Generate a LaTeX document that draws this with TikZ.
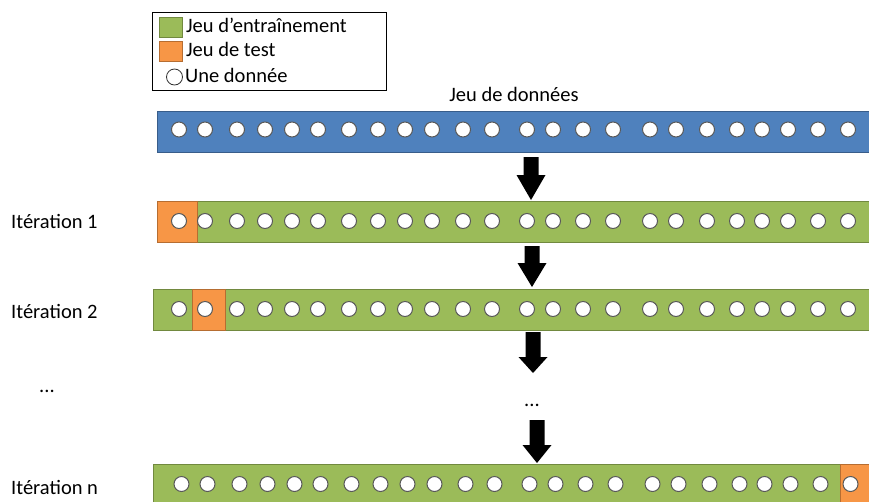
\documentclass[tikz,border=0pt]{standalone}
\usepackage{fontspec}
\setmainfont{Carlito}
\definecolor{setblue}{HTML}{4F81BD}
\definecolor{setblueline}{HTML}{385D8A}
\definecolor{trainfill}{HTML}{9BBB59}
\definecolor{trainline}{HTML}{71893F}
\definecolor{testfill}{HTML}{F79646}
\definecolor{testline}{HTML}{B66D31}
\newcommand\blockarrow[4]{%
  \fill (#1-7.5,#2) -- (#1+7.5,#2) -- (#1+7.5,#3) -- (#1+14.5,#3)
    -- (#1,#4) -- (#1-14.5,#3) -- (#1-7.5,#3) -- cycle;}
\begin{document}
\begin{tikzpicture}[x=1pt,y=-1pt,
  dot/.style={circle,draw=black!65,fill=white,line width=1pt,
    minimum size=15pt,inner sep=0pt},
  databar/.style={rectangle,line width=1pt,anchor=north west,
    minimum height=41pt,inner sep=0pt},
  trainbar/.style={databar,fill=trainfill,draw=trainline},
  testcell/.style={databar,fill=testfill,draw=testline},
  label/.style={anchor=base west,inner sep=0pt,font=\fontsize{20.5}{24}\selectfont},
  legendtext/.style={anchor=base west,inner sep=0pt,font=\fontsize{20.5}{24}\selectfont}]
\useasboundingbox (0,0) rectangle (869,501);
\clip (0,0) rectangle (869,501);

% legend
\node[draw,line width=0.8pt,anchor=north west,minimum width=234pt,
  minimum height=78pt,inner sep=0pt] (legend) at (152,12) {};
\node[draw=trainline,fill=trainfill,anchor=north west,minimum width=23pt,
  minimum height=20pt,inner sep=0pt] (ltrain) at (159,17) {};
\node[draw=testline,fill=testfill,anchor=north west,minimum width=23pt,
  minimum height=20pt,inner sep=0pt] (ltest) at (159,41) {};
\node[circle,draw=black!80,fill=white,line width=0.8pt,minimum size=16pt,
  inner sep=0pt] (ldot) at (174.5,77) {};
\node[legendtext] (ttrain) at (186,32) {Jeu d’entraînement};
\node[legendtext] (ttest) at (186,56) {Jeu de test};
\node[legendtext] (tdot) at (185,82) {Une donnée};

% full data set
\node[label,anchor=base] (tdata) at (514,101) {Jeu de données};
\node[databar,fill=setblue,draw=setblueline,minimum width=730pt] (data) at (157,111) {};

% iterations
\node[trainbar,minimum width=730pt] (it1) at (157,201) {};
\node[testcell,minimum width=40pt] (t1) at (157,201) {};
\node[trainbar,minimum width=730pt] (it2) at (153,289) {};
\node[testcell,minimum width=33pt] (t2) at (192,289) {};
\node[trainbar,minimum width=730pt] (itn) at (153,464) {};
\node[testcell,minimum width=40pt] (tn) at (840,464) {};

% data points
\foreach \x [count=\i] in {179,205,237,265,292,318,349,378,405,432,463,492,
                           527,553,583,613,650,676,707,737,762,788,818,848}{
  \node[dot] (d0-\i) at (\x,129.5) {};
  \node[dot] (d1-\i) at (\x,221) {};
  \node[dot] (d2-\i) at (\x,309) {};
  \node[dot] (dn-\i) at (\x+2.5,484) {};
}

% row labels
\node[label] (l1) at (11,228) {Itération 1};
\node[label] (l2) at (11,318) {Itération 2};
\node[label] (ldots) at (39,392) {...};
\node[label] (ln) at (11,494) {Itération n};
\node[label,anchor=base] (mdots) at (532,406) {...};

% block arrows between rows
\blockarrow{531}{157}{175}{200}
\blockarrow{532}{246}{263}{287}
\blockarrow{533}{332}{357}{373}
\blockarrow{537}{420}{445}{463}
\end{tikzpicture}
\end{document}
